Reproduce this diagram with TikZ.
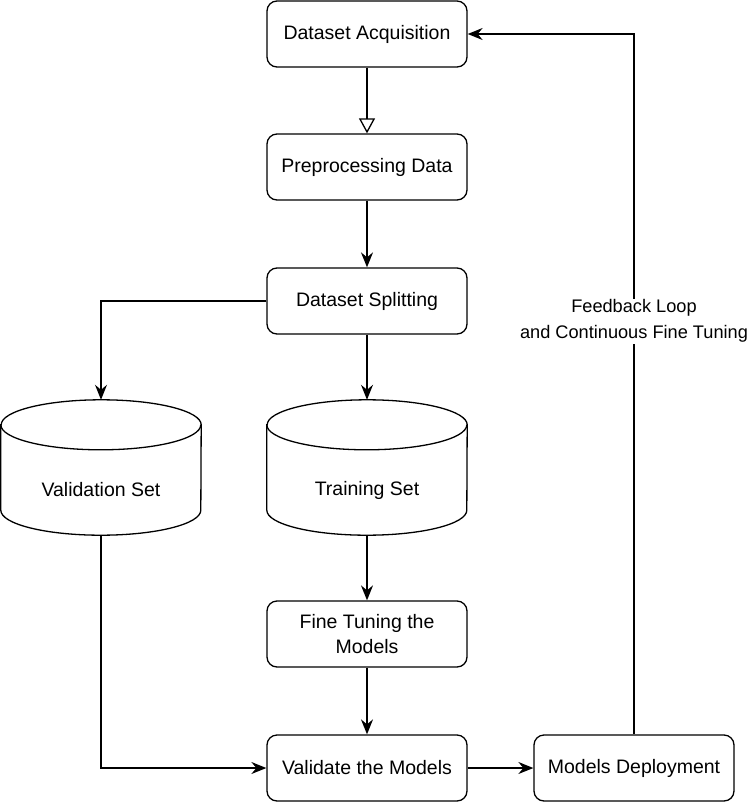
\documentclass[tikz,border=0pt]{standalone}
\usepackage{fontspec}
\setmainfont{Liberation Sans}
\usetikzlibrary{arrows.meta}
\begin{document}
\begin{tikzpicture}[x=1pt,y=1pt,
  every node/.style={font=\fontsize{19.5}{25}\selectfont},
  proc/.style={draw, line width=1.3pt, rounded corners=10pt, minimum width=200pt, minimum height=66pt, align=center, inner sep=0pt},
  cylbox/.style={minimum width=200pt, minimum height=135pt, inner sep=0pt},
  conn/.style={line width=1.3pt, -{Stealth[length=15pt,width=12pt,inset=5pt]}},
  openconn/.style={line width=1.3pt, -{Triangle[open,length=15pt,width=16pt]}},
  lbl/.style={fill=white, align=center, inner sep=1pt, font=\fontsize{18.2}{26}\selectfont}]
\useasboundingbox (0,0) rectangle (749,-803);
\node[proc] (acq) at (367,-34) {Dataset Acquisition};
\node[proc] (pre) at (367,-167) {Preprocessing Data};
\node[proc] (spl) at (367,-301) {Dataset Splitting};
\node[cylbox] (vs) at (101,-467.5) {};
\node[cylbox] (ts) at (367,-467.5) {};
\foreach \c in {vs,ts}{
  \draw[line width=1.3pt, fill=white] ([yshift=-25]\c.north west) -- ([yshift=25]\c.south west)
    arc[start angle=180,end angle=360,x radius=100,y radius=25]
    -- ([yshift=-25]\c.north east)
    arc[start angle=0,end angle=180,x radius=100,y radius=25] -- cycle;
  \draw[line width=1.3pt] ([yshift=-25]\c.north west) arc[start angle=180,end angle=360,x radius=100,y radius=25];
}
\node (vst) at (101,-490) {Validation Set};
\node (tst) at (367,-490) {Training Set};
\node[proc] (ft) at (367,-634) {Fine Tuning the\\Models};
\node[proc] (val) at (367,-768) {Validate the Models};
\node[proc] (dep) at (634,-768) {Models Deployment};
\draw[openconn] (acq) -- (pre);
\draw[conn] (pre) -- (spl);
\draw[conn] (spl) -- (ts);
\draw[conn] (spl.west) -| (vs.north);
\draw[conn] (ts) -- (ft);
\draw[conn] (ft) -- (val);
\draw[conn] (vs.south) |- (val.west);
\draw[conn] (val) -- (dep);
\draw[conn] (dep.north) |- (acq.east) node[lbl, pos=0.295] {Feedback Loop\\and Continuous Fine Tuning};
\end{tikzpicture}
\end{document}
